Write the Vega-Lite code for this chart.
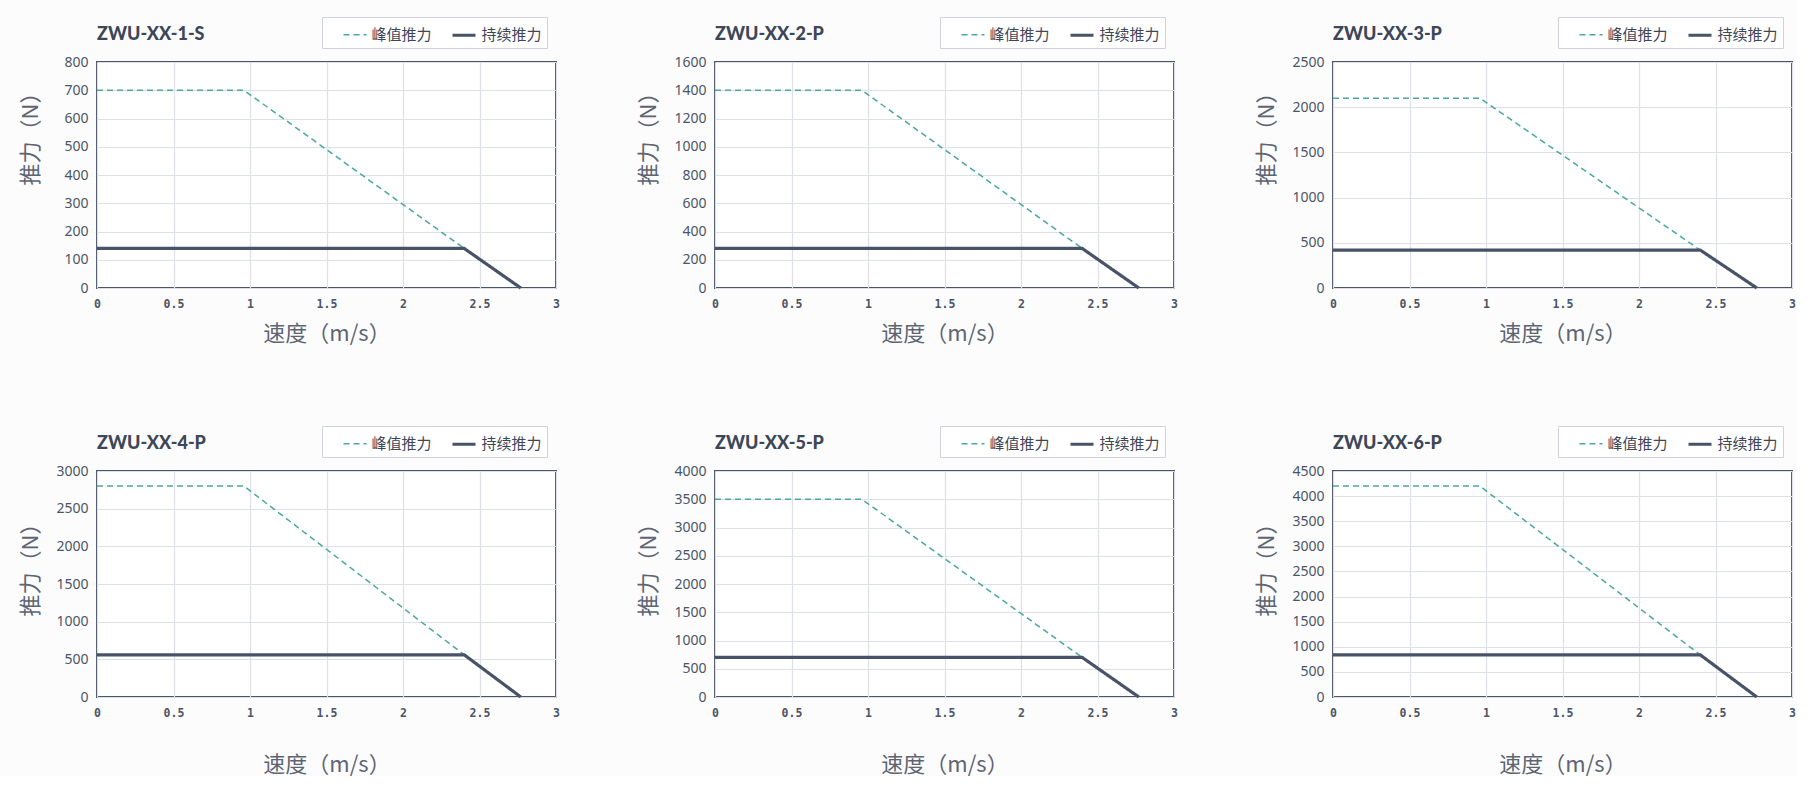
{
  "$schema": "https://vega.github.io/schema/vega-lite/v6.json",
  "background": "#fcfcfd",
  "autosize": {"type": "pad"},
  "padding": {"left": 18, "top": 15, "right": 0, "bottom": 0},
  "bounds": "flush",
  "columns": 3,
  "spacing": {"row": 183, "column": 159},
  "concat": [
    {
      "title": "ZWU-XX-1-S",
      "width": 459, "height": 226,
      "data": {"values": [
        {"s": "峰值推力", "v": 0, "f": 700}, {"s": "峰值推力", "v": 0.96, "f": 700}, {"s": "峰值推力", "v": 2.4, "f": 140},
        {"s": "持续推力", "v": 0, "f": 140}, {"s": "持续推力", "v": 2.4, "f": 140}, {"s": "持续推力", "v": 2.77, "f": 0}
      ]},
      "mark": {"type": "line"},
      "encoding": {
        "x": {"field": "v", "type": "quantitative", "scale": {"domain": [0, 3]}, "axis": {"title": "速度（m/s）", "values": [0, 0.5, 1, 1.5, 2, 2.5, 3], "format": "~g", "titleY": 45}},
        "y": {"field": "f", "type": "quantitative", "scale": {"domain": [0, 800]}, "axis": {"title": "推力（N）", "values": [0, 100, 200, 300, 400, 500, 600, 700, 800], "format": "d", "titleY": 71}},
        "color": {"field": "s", "type": "nominal", "scale": {"domain": ["峰值推力", "持续推力"], "range": ["#4aa99b", "#485368"]}, "legend": {"legendX": 225, "legendY": -45, "labelExpr": "datum.label == '持续推力' ? '持续推力\u3000' : datum.label"}},
        "strokeDash": {"field": "s", "type": "nominal", "scale": {"domain": ["峰值推力", "持续推力"], "range": [[6, 4], [1, 0]]}, "legend": {"legendX": 225, "legendY": -45, "labelExpr": "datum.label == '持续推力' ? '持续推力\u3000' : datum.label"}},
        "strokeWidth": {"field": "s", "type": "nominal", "scale": {"domain": ["峰值推力", "持续推力"], "range": [1.5, 3.2]}, "legend": {"legendX": 225, "legendY": -45, "labelExpr": "datum.label == '持续推力' ? '持续推力\u3000' : datum.label"}}
      }
    },
    {
      "title": "ZWU-XX-2-P",
      "width": 459, "height": 226,
      "data": {"values": [
        {"s": "峰值推力", "v": 0, "f": 1400}, {"s": "峰值推力", "v": 0.96, "f": 1400}, {"s": "峰值推力", "v": 2.4, "f": 280},
        {"s": "持续推力", "v": 0, "f": 280}, {"s": "持续推力", "v": 2.4, "f": 280}, {"s": "持续推力", "v": 2.77, "f": 0}
      ]},
      "mark": {"type": "line"},
      "encoding": {
        "x": {"field": "v", "type": "quantitative", "scale": {"domain": [0, 3]}, "axis": {"title": "速度（m/s）", "values": [0, 0.5, 1, 1.5, 2, 2.5, 3], "format": "~g", "titleY": 45}},
        "y": {"field": "f", "type": "quantitative", "scale": {"domain": [0, 1600]}, "axis": {"title": "推力（N）", "values": [0, 200, 400, 600, 800, 1000, 1200, 1400, 1600], "format": "d", "titleY": 71}},
        "color": {"field": "s", "type": "nominal", "scale": {"domain": ["峰值推力", "持续推力"], "range": ["#4aa99b", "#485368"]}, "legend": {"legendX": 225, "legendY": -45, "labelExpr": "datum.label == '持续推力' ? '持续推力\u3000' : datum.label"}},
        "strokeDash": {"field": "s", "type": "nominal", "scale": {"domain": ["峰值推力", "持续推力"], "range": [[6, 4], [1, 0]]}, "legend": {"legendX": 225, "legendY": -45, "labelExpr": "datum.label == '持续推力' ? '持续推力\u3000' : datum.label"}},
        "strokeWidth": {"field": "s", "type": "nominal", "scale": {"domain": ["峰值推力", "持续推力"], "range": [1.5, 3.2]}, "legend": {"legendX": 225, "legendY": -45, "labelExpr": "datum.label == '持续推力' ? '持续推力\u3000' : datum.label"}}
      }
    },
    {
      "title": "ZWU-XX-3-P",
      "width": 459, "height": 226,
      "data": {"values": [
        {"s": "峰值推力", "v": 0, "f": 2100}, {"s": "峰值推力", "v": 0.96, "f": 2100}, {"s": "峰值推力", "v": 2.4, "f": 420},
        {"s": "持续推力", "v": 0, "f": 420}, {"s": "持续推力", "v": 2.4, "f": 420}, {"s": "持续推力", "v": 2.77, "f": 0}
      ]},
      "mark": {"type": "line"},
      "encoding": {
        "x": {"field": "v", "type": "quantitative", "scale": {"domain": [0, 3]}, "axis": {"title": "速度（m/s）", "values": [0, 0.5, 1, 1.5, 2, 2.5, 3], "format": "~g", "titleY": 45}},
        "y": {"field": "f", "type": "quantitative", "scale": {"domain": [0, 2500]}, "axis": {"title": "推力（N）", "values": [0, 500, 1000, 1500, 2000, 2500], "format": "d", "titleY": 71}},
        "color": {"field": "s", "type": "nominal", "scale": {"domain": ["峰值推力", "持续推力"], "range": ["#4aa99b", "#485368"]}, "legend": {"legendX": 225, "legendY": -45, "labelExpr": "datum.label == '持续推力' ? '持续推力\u3000' : datum.label"}},
        "strokeDash": {"field": "s", "type": "nominal", "scale": {"domain": ["峰值推力", "持续推力"], "range": [[6, 4], [1, 0]]}, "legend": {"legendX": 225, "legendY": -45, "labelExpr": "datum.label == '持续推力' ? '持续推力\u3000' : datum.label"}},
        "strokeWidth": {"field": "s", "type": "nominal", "scale": {"domain": ["峰值推力", "持续推力"], "range": [1.5, 3.2]}, "legend": {"legendX": 225, "legendY": -45, "labelExpr": "datum.label == '持续推力' ? '持续推力\u3000' : datum.label"}}
      }
    },
    {
      "title": "ZWU-XX-4-P",
      "width": 459, "height": 226,
      "data": {"values": [
        {"s": "峰值推力", "v": 0, "f": 2800}, {"s": "峰值推力", "v": 0.96, "f": 2800}, {"s": "峰值推力", "v": 2.4, "f": 560},
        {"s": "持续推力", "v": 0, "f": 560}, {"s": "持续推力", "v": 2.4, "f": 560}, {"s": "持续推力", "v": 2.77, "f": 0}
      ]},
      "mark": {"type": "line"},
      "encoding": {
        "x": {"field": "v", "type": "quantitative", "scale": {"domain": [0, 3]}, "axis": {"title": "速度（m/s）", "values": [0, 0.5, 1, 1.5, 2, 2.5, 3], "format": "~g", "titleY": 67}},
        "y": {"field": "f", "type": "quantitative", "scale": {"domain": [0, 3000]}, "axis": {"title": "推力（N）", "values": [0, 500, 1000, 1500, 2000, 2500, 3000], "format": "d", "titleY": 93}},
        "color": {"field": "s", "type": "nominal", "scale": {"domain": ["峰值推力", "持续推力"], "range": ["#4aa99b", "#485368"]}, "legend": {"legendX": 225, "legendY": -45, "labelExpr": "datum.label == '持续推力' ? '持续推力\u3000' : datum.label"}},
        "strokeDash": {"field": "s", "type": "nominal", "scale": {"domain": ["峰值推力", "持续推力"], "range": [[6, 4], [1, 0]]}, "legend": {"legendX": 225, "legendY": -45, "labelExpr": "datum.label == '持续推力' ? '持续推力\u3000' : datum.label"}},
        "strokeWidth": {"field": "s", "type": "nominal", "scale": {"domain": ["峰值推力", "持续推力"], "range": [1.5, 3.2]}, "legend": {"legendX": 225, "legendY": -45, "labelExpr": "datum.label == '持续推力' ? '持续推力\u3000' : datum.label"}}
      }
    },
    {
      "title": "ZWU-XX-5-P",
      "width": 459, "height": 226,
      "data": {"values": [
        {"s": "峰值推力", "v": 0, "f": 3500}, {"s": "峰值推力", "v": 0.96, "f": 3500}, {"s": "峰值推力", "v": 2.4, "f": 700},
        {"s": "持续推力", "v": 0, "f": 700}, {"s": "持续推力", "v": 2.4, "f": 700}, {"s": "持续推力", "v": 2.77, "f": 0}
      ]},
      "mark": {"type": "line"},
      "encoding": {
        "x": {"field": "v", "type": "quantitative", "scale": {"domain": [0, 3]}, "axis": {"title": "速度（m/s）", "values": [0, 0.5, 1, 1.5, 2, 2.5, 3], "format": "~g", "titleY": 67}},
        "y": {"field": "f", "type": "quantitative", "scale": {"domain": [0, 4000]}, "axis": {"title": "推力（N）", "values": [0, 500, 1000, 1500, 2000, 2500, 3000, 3500, 4000], "format": "d", "titleY": 93}},
        "color": {"field": "s", "type": "nominal", "scale": {"domain": ["峰值推力", "持续推力"], "range": ["#4aa99b", "#485368"]}, "legend": {"legendX": 225, "legendY": -45, "labelExpr": "datum.label == '持续推力' ? '持续推力\u3000' : datum.label"}},
        "strokeDash": {"field": "s", "type": "nominal", "scale": {"domain": ["峰值推力", "持续推力"], "range": [[6, 4], [1, 0]]}, "legend": {"legendX": 225, "legendY": -45, "labelExpr": "datum.label == '持续推力' ? '持续推力\u3000' : datum.label"}},
        "strokeWidth": {"field": "s", "type": "nominal", "scale": {"domain": ["峰值推力", "持续推力"], "range": [1.5, 3.2]}, "legend": {"legendX": 225, "legendY": -45, "labelExpr": "datum.label == '持续推力' ? '持续推力\u3000' : datum.label"}}
      }
    },
    {
      "title": "ZWU-XX-6-P",
      "width": 459, "height": 226,
      "data": {"values": [
        {"s": "峰值推力", "v": 0, "f": 4200}, {"s": "峰值推力", "v": 0.96, "f": 4200}, {"s": "峰值推力", "v": 2.4, "f": 840},
        {"s": "持续推力", "v": 0, "f": 840}, {"s": "持续推力", "v": 2.4, "f": 840}, {"s": "持续推力", "v": 2.77, "f": 0}
      ]},
      "mark": {"type": "line"},
      "encoding": {
        "x": {"field": "v", "type": "quantitative", "scale": {"domain": [0, 3]}, "axis": {"title": "速度（m/s）", "values": [0, 0.5, 1, 1.5, 2, 2.5, 3], "format": "~g", "titleY": 67}},
        "y": {"field": "f", "type": "quantitative", "scale": {"domain": [0, 4500]}, "axis": {"title": "推力（N）", "values": [0, 500, 1000, 1500, 2000, 2500, 3000, 3500, 4000, 4500], "format": "d", "titleY": 93}},
        "color": {"field": "s", "type": "nominal", "scale": {"domain": ["峰值推力", "持续推力"], "range": ["#4aa99b", "#485368"]}, "legend": {"legendX": 225, "legendY": -45, "labelExpr": "datum.label == '持续推力' ? '持续推力\u3000' : datum.label"}},
        "strokeDash": {"field": "s", "type": "nominal", "scale": {"domain": ["峰值推力", "持续推力"], "range": [[6, 4], [1, 0]]}, "legend": {"legendX": 225, "legendY": -45, "labelExpr": "datum.label == '持续推力' ? '持续推力\u3000' : datum.label"}},
        "strokeWidth": {"field": "s", "type": "nominal", "scale": {"domain": ["峰值推力", "持续推力"], "range": [1.5, 3.2]}, "legend": {"legendX": 225, "legendY": -45, "labelExpr": "datum.label == '持续推力' ? '持续推力\u3000' : datum.label"}}
      }
    }
  ],
  "resolve": {"scale": {"y": "independent", "x": "independent", "color": "independent", "strokeDash": "independent", "strokeWidth": "independent"}, "legend": {"color": "independent", "strokeDash": "independent", "strokeWidth": "independent"}},
  "config": {
    "view": {"stroke": "#4a5568", "strokeWidth": 2, "fill": "#ffffff"},
    "axis": {
      "gridColor": "#dde0e6", "gridWidth": 1.2, "domain": false, "ticks": false,
      "labelColor": "#4a5568", "titleColor": "#5d6573",
      "titleFont": "Noto Sans CJK SC", "titleFontSize": 22, "titleFontWeight": "normal",
      "titleBaseline": "middle", "titleAlign": "center"
    },
    "axisX": {"labelFont": "DejaVu Sans Mono", "labelFontWeight": "bold", "labelFontSize": 11.5, "labelPadding": 10, "labelFlush": false},
    "axisY": {"labelFont": "Noto Sans", "labelFontSize": 14, "labelPadding": 9, "titleX": -67, "titleAngle": 270},
    "title": {"anchor": "start", "frame": "group", "font": "Lato", "fontSize": 18, "fontWeight": 900, "color": "#3d4758", "offset": -27},
    "legend": {
      "orient": "none", "direction": "horizontal", "title": null,
      "strokeColor": "#cfd3d9", "fillColor": "#ffffff", "padding": 4.5,
      "labelFont": "Noto Sans CJK SC", "labelFontSize": 15, "labelColor": "#3d4758",
      "symbolType": "stroke", "symbolSize": 529, "labelOffset": 4, "columnPadding": 2, "symbolOffset": 16
    }
  }
}
